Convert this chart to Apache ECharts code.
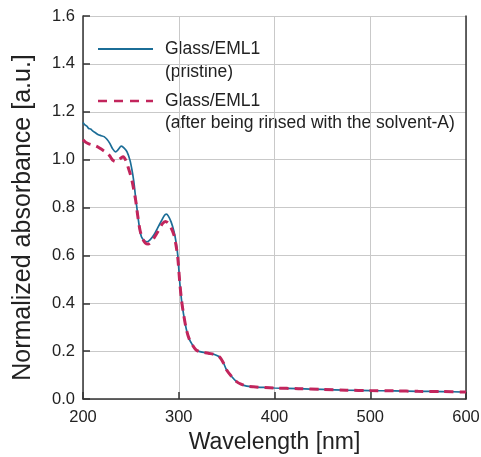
<!DOCTYPE html>
<html>
<head>
<meta charset="utf-8">
<script src="https://cdn.jsdelivr.net/npm/echarts@6/dist/echarts.min.js"></script>
<style>
  html, body { margin: 0; padding: 0; background: #fff; }
  #chart { width: 481px; height: 457px; }
</style>
</head>
<body>
<div id="chart"></div>
<script>
// Absorption spectra of Glass/EML1 films, normalized.
const pristineNm = [200, 202, 204, 206, 208, 210, 213, 216, 219, 222, 225, 228, 231, 234, 237, 240, 243, 246, 249, 251, 253, 255, 257, 259, 261, 264, 267, 270, 274, 278, 282, 285, 287, 289, 292, 295, 297, 299, 301, 303, 305, 308, 311, 314, 318, 322, 331, 338, 343, 347, 350, 355, 360, 365, 371, 378, 390, 400, 425, 450, 475, 500, 525, 550, 575, 600];
const pristineAbs = [1.155, 1.145, 1.140, 1.130, 1.128, 1.120, 1.112, 1.104, 1.100, 1.096, 1.085, 1.068, 1.045, 1.032, 1.043, 1.056, 1.048, 1.032, 0.998, 0.960, 0.910, 0.840, 0.775, 0.715, 0.678, 0.662, 0.657, 0.665, 0.685, 0.715, 0.745, 0.767, 0.772, 0.765, 0.740, 0.700, 0.660, 0.600, 0.490, 0.410, 0.355, 0.290, 0.250, 0.228, 0.205, 0.198, 0.191, 0.185, 0.174, 0.148, 0.121, 0.095, 0.074, 0.062, 0.054, 0.051, 0.048, 0.046, 0.043, 0.040, 0.037, 0.035, 0.034, 0.032, 0.031, 0.029];

const rinsedNm = [200, 203, 206, 210, 213, 216, 219, 222, 225, 228, 231, 234, 237, 240, 242, 245, 247, 249, 251, 253, 255, 257, 259.5, 262, 265, 268, 271, 275, 279, 283, 286, 289, 292, 295, 297, 299, 301, 303, 305, 308, 311, 314, 318, 322, 331, 338, 343, 347, 350, 355, 360, 365, 371, 378, 390, 400, 425, 450, 475, 500, 525, 550, 575, 600];
const rinsedAbs = [1.083, 1.072, 1.066, 1.061, 1.058, 1.052, 1.044, 1.036, 1.028, 1.015, 0.998, 0.992, 0.998, 1.008, 1.012, 0.995, 0.970, 0.945, 0.915, 0.875, 0.830, 0.770, 0.706, 0.672, 0.652, 0.647, 0.655, 0.678, 0.705, 0.733, 0.742, 0.735, 0.715, 0.685, 0.645, 0.590, 0.490, 0.410, 0.355, 0.290, 0.250, 0.228, 0.205, 0.198, 0.191, 0.185, 0.174, 0.148, 0.121, 0.095, 0.074, 0.062, 0.054, 0.051, 0.048, 0.046, 0.043, 0.040, 0.037, 0.035, 0.034, 0.032, 0.031, 0.029];

const xTicks = [200, 300, 400, 500, 600];
const yTicks = [0.0, 0.2, 0.4, 0.6, 0.8, 1.0, 1.2, 1.4, 1.6];

const seriesNames = ['Glass/EML1\n(pristine)', 'Glass/EML1\n(after being rinsed with the solvent-A)'];

const BLUE = '#1b6d97';
const RED = '#c2255c';
const AXIS = '#333333';
const GRID = '#c9c9c9';
const FONT = '"Liberation Sans", Arial, sans-serif';

function pairs(xs, ys) { return xs.map((x, i) => [x, ys[i]]); }

const chart = echarts.init(document.getElementById('chart'), null, { renderer: 'canvas' });

const legendX1 = 98, legendX2 = 153, legendTextX = 165;

chart.setOption({
  animation: false,
  backgroundColor: '#ffffff',
  grid: { left: 83, top: 16, right: 15, bottom: 58, containLabel: false, outerBoundsMode: 'none' },
  xAxis: {
    type: 'value',
    min: xTicks[0],
    max: xTicks[xTicks.length - 1],
    interval: 100,
    name: 'Wavelength [nm]',
    nameLocation: 'middle',
    nameGap: 30,
    nameTextStyle: { fontFamily: FONT, fontSize: 23, color: '#222' },
    axisLine: { show: true, lineStyle: { color: AXIS, width: 1.5 } },
    axisTick: { show: true, inside: true, length: 7, lineStyle: { color: AXIS, width: 1.5 } },
    axisLabel: { fontFamily: FONT, fontSize: 16.5, color: '#222', margin: 10 },
    splitLine: { show: true, lineStyle: { color: GRID, width: 1 } }
  },
  yAxis: [{
    type: 'value',
    min: yTicks[0],
    max: yTicks[yTicks.length - 1],
    interval: 0.2,
    name: 'Normalized absorbance [a.u.]',
    nameLocation: 'middle',
    nameGap: 47,
    nameTextStyle: { fontFamily: FONT, fontSize: 25, color: '#222', padding: [0, 20, 0, 0] },
    axisLine: { show: true, lineStyle: { color: AXIS, width: 1.5 } },
    axisTick: { show: true, inside: true, length: 7, lineStyle: { color: AXIS, width: 1.5 } },
    axisLabel: { fontFamily: FONT, fontSize: 16.5, color: '#222', margin: 8, formatter: v => v.toFixed(1) },
    splitLine: { show: true, lineStyle: { color: GRID, width: 1 } }
  }, {
    type: 'value',
    position: 'right',
    min: yTicks[0],
    max: yTicks[yTicks.length - 1],
    interval: 0.2,
    axisLine: { show: true, onZero: false, lineStyle: { color: AXIS, width: 1.5 } },
    axisTick: { show: false },
    axisLabel: { show: false },
    splitLine: { show: false }
  }],
  series: [{
    name: seriesNames[0],
    type: 'line',
    data: pairs(pristineNm, pristineAbs),
    smooth: 0.3,
    showSymbol: false,
    z: 3,
    lineStyle: { color: BLUE, width: 1.7 }
  }, {
    name: seriesNames[1],
    type: 'line',
    data: pairs(rinsedNm, rinsedAbs),
    smooth: 0.3,
    showSymbol: false,
    z: 4,
    lineStyle: { color: RED, width: 3, type: [9, 6] }
  }],
  graphic: [
    { type: 'line', shape: { x1: legendX1, y1: 49, x2: legendX2, y2: 49 }, style: { stroke: BLUE, lineWidth: 1.8 } },
    { type: 'text', x: legendTextX, y: 49, style: { text: 'Glass/EML1', font: '17.5px ' + FONT, fill: '#222', textVerticalAlign: 'middle' } },
    { type: 'text', x: legendTextX, y: 72, style: { text: '(pristine)', font: '17.5px ' + FONT, fill: '#222', textVerticalAlign: 'middle' } },
    { type: 'line', shape: { x1: legendX1, y1: 101, x2: legendX2, y2: 101 }, style: { stroke: RED, lineWidth: 2.5, lineDash: [9, 7] } },
    { type: 'text', x: legendTextX, y: 101, style: { text: 'Glass/EML1', font: '17.5px ' + FONT, fill: '#222', textVerticalAlign: 'middle' } },
    { type: 'text', x: legendTextX, y: 123, style: { text: '(after being rinsed with the solvent-A)', font: '17.5px ' + FONT, fill: '#222', textVerticalAlign: 'middle' } }
  ]
});
</script>
</body>
</html>
